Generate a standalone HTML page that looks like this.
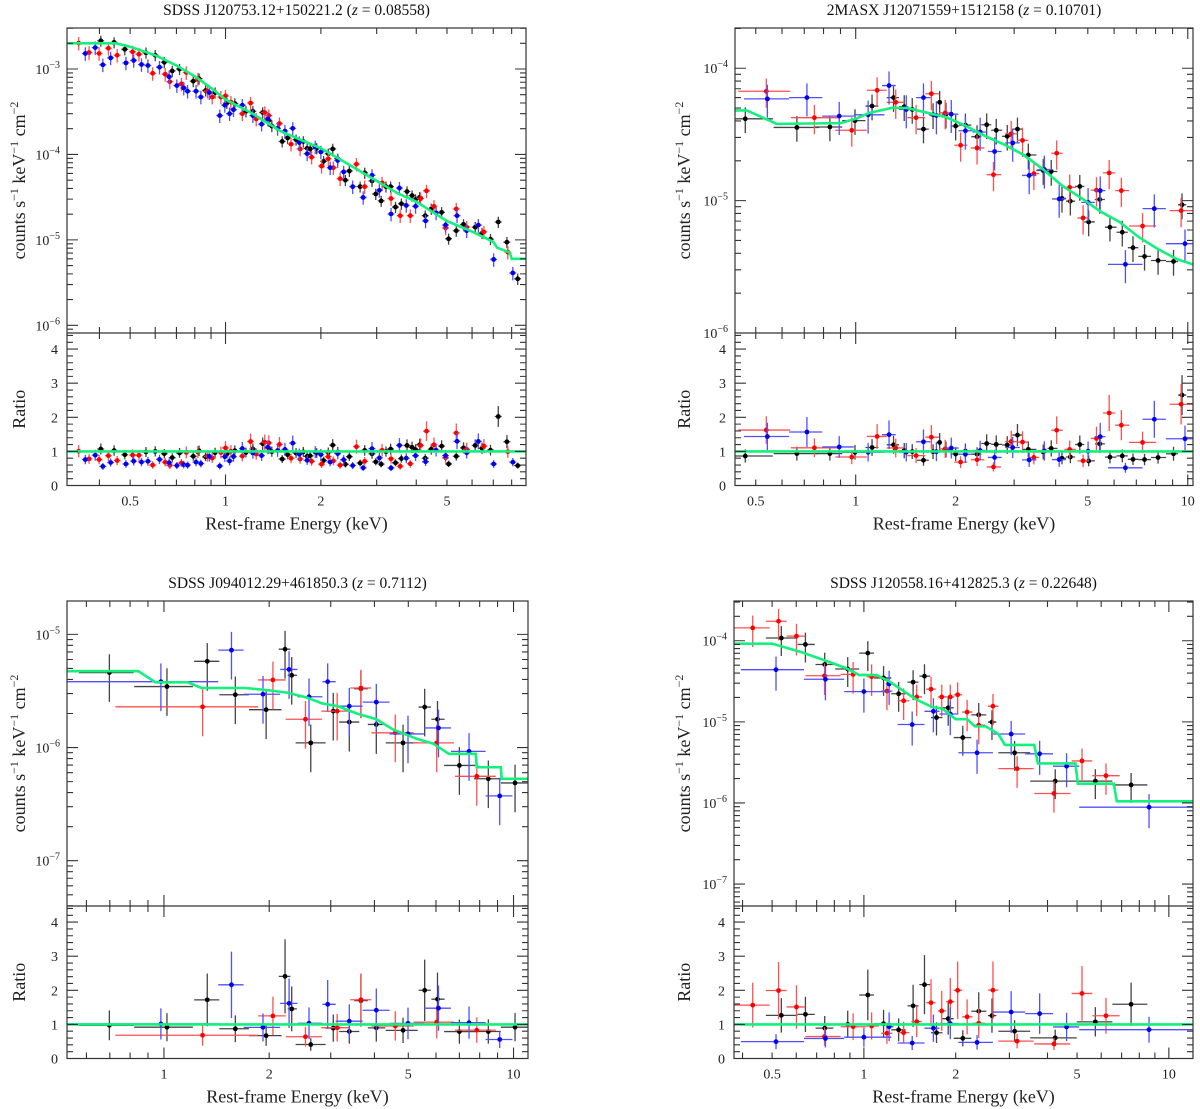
<!DOCTYPE html>
<html><head><meta charset="utf-8"><style>
html,body{margin:0;padding:0;background:#fff;}
svg{display:block;font-family:"Liberation Serif","DejaVu Serif",serif;}
</style></head><body>
<svg id="fig" width="1200" height="1109" viewBox="0 0 1200 1109" xmlns="http://www.w3.org/2000/svg"></svg>
<script>
// ---------- DATA (energies keV, counts s^-1 keV^-1 cm^-2) ----------
// Panel TL: SDSS J120753.12+150221.2
const tlBlackE=[0.404,0.445,0.481,0.561,0.600,0.641,0.679,0.716,0.791,0.825,0.865,0.927,1.01,1.07,1.16,1.22,1.31,1.37,1.40,1.51,1.57,1.67,1.76,1.81,1.85,1.94,2.04,2.11,2.18,2.26,2.39,2.46,2.66,2.75,2.90,2.98,3.10,3.21,3.32,3.44,3.59,3.74,3.88,3.98,4.10,4.27,4.46,4.81,5.06,5.35,5.64,6.14,6.45,6.86,7.26,7.73,8.36];
const tlBlackY=[2.14e-3,2.05e-3,1.70e-3,1.55e-3,1.45e-3,1.20e-3,9.5e-4,1.0e-3,7.2e-4,7.7e-4,5.6e-4,5.3e-4,4.0e-4,3.95e-4,3.2e-4,3.2e-4,3.1e-4,2.5e-4,2.15e-4,1.42e-4,1.56e-4,1.49e-4,1.42e-4,1.18e-4,1.16e-4,1.18e-4,8.3e-5,1.02e-4,1.16e-4,8.9e-5,5.0e-5,6.4e-5,4.2e-5,6.1e-5,4.9e-5,3.45e-5,2.86e-5,4.2e-5,4.2e-5,2.42e-5,2.65e-5,3.68e-5,3.3e-5,2.97e-5,3.15e-5,1.92e-5,2.31e-5,2.1e-5,1.03e-5,1.28e-5,1.52e-5,1.41e-5,1.2e-5,1.02e-5,1.62e-5,9.4e-6,3.5e-6];
const tlRedE=[0.344,0.371,0.399,0.427,0.455,0.509,0.533,0.589,0.645,0.667,0.726,0.752,0.818,0.877,0.908,0.967,1.0,1.04,1.13,1.20,1.25,1.33,1.37,1.48,1.61,1.72,1.87,2.01,2.11,2.19,2.30,2.59,2.75,3.12,3.33,3.56,3.83,4.13,4.31,4.55,4.95,5.35,5.77,6.54,7.78];
const tlRedY=[2.01e-3,1.56e-3,1.52e-3,1.75e-3,1.45e-3,1.59e-3,1.49e-3,8.9e-4,8.7e-4,7.1e-4,6.7e-4,9.1e-4,7.6e-4,5.5e-4,4.7e-4,4.7e-4,4.85e-4,4.1e-4,3.0e-4,4.0e-4,2.6e-4,3.1e-4,2.85e-4,2.3e-4,1.32e-4,1.16e-4,9.3e-5,7.3e-5,8.9e-5,7.0e-5,5.2e-5,7.7e-5,4.2e-5,4.65e-5,3.05e-5,1.92e-5,1.92e-5,3.05e-5,3.75e-5,2.47e-5,1.38e-5,2.3e-5,1.41e-5,1.24e-5,7.2e-6];
const tlBlueE=[0.361,0.388,0.410,0.434,0.485,0.513,0.543,0.569,0.619,0.664,0.702,0.738,0.759,0.807,0.836,0.889,0.959,0.995,1.03,1.06,1.13,1.22,1.30,1.36,1.46,1.54,1.63,1.71,1.81,1.92,2.0,2.14,2.26,2.36,2.52,2.72,2.90,3.06,3.33,3.54,3.72,3.98,4.28,4.62,4.95,5.38,5.77,6.28,7.02,8.07];
const tlBlueY=[1.52e-3,1.78e-3,1.12e-3,1.35e-3,1.18e-3,1.26e-3,1.13e-3,1.10e-3,1.05e-3,8.1e-4,6.4e-4,6.0e-4,5.5e-4,5.5e-4,4.7e-4,5.3e-4,2.85e-4,3.77e-4,3.0e-4,3.34e-4,3.77e-4,2.85e-4,2.26e-4,2.6e-4,2.02e-4,1.88e-4,2.02e-4,1.38e-4,1.02e-4,1.23e-4,1.07e-4,7.0e-5,8.5e-5,6.25e-5,4.2e-5,3.14e-5,5.7e-5,3.8e-5,2.01e-5,4.04e-5,2.53e-5,2.47e-5,1.67e-5,2.07e-5,1.49e-5,1.92e-5,1.28e-5,1.49e-5,5.9e-6,4.1e-6];
const tlModelE=[0.316,0.45,0.5,0.6,0.7,0.8,0.9,1.0,1.2,1.5,2,2.5,3,3.5,4,5,6,7,7.2,7.9,8.0,8.88];
const tlModelY=[2.0e-3,2.0e-3,1.82e-3,1.45e-3,1.1e-3,8.2e-4,6.0e-4,4.4e-4,3.1e-4,1.85e-4,1.18e-4,7.3e-5,4.9e-5,3.5e-5,2.8e-5,1.66e-5,1.25e-5,9.5e-6,8.1e-6,7.1e-6,6.0e-6,6.0e-6];

// Panel TR: 2MASX J12071559+1512158
const trBlackE=[0.465,0.665,0.836,0.995,1.12,1.30,1.40,1.48,1.60,1.71,1.79,1.87,2.0,2.14,2.32,2.48,2.65,2.86,3.07,3.31,3.67,3.88,4.18,4.43,4.73,5.03,5.43,5.83,6.35,6.84,7.41,8.14,9.06,9.61];
const trBlackY=[4.15e-5,3.57e-5,3.6e-5,4.02e-5,5.18e-5,6.0e-5,5.12e-5,4.88e-5,3.47e-5,4.46e-5,5.53e-5,4.5e-5,3.66e-5,3.72e-5,3.04e-5,3.74e-5,3.4e-5,3.06e-5,3.47e-5,2.21e-5,1.69e-5,1.66e-5,1.04e-5,9.9e-6,1.28e-5,6.9e-6,1.02e-5,6.3e-6,5.77e-6,4.41e-6,3.79e-6,3.53e-6,3.47e-6,9.3e-6];
const trBlackLo=[0.431,0.566,0.755,0.911,1.07,1.24,1.35,1.44,1.53,1.66,1.75,1.82,1.93,2.05,2.23,2.39,2.56,2.76,2.96,3.19,3.5,3.78,4.05,4.3,4.58,4.88,5.25,5.63,6.1,6.6,7.1,7.75,8.6,9.35];
const trBlackHi=[0.563,0.776,0.911,1.07,1.17,1.35,1.44,1.53,1.66,1.75,1.82,1.93,2.05,2.23,2.39,2.56,2.76,2.96,3.19,3.5,3.78,4.05,4.3,4.58,4.88,5.25,5.63,6.1,6.6,7.1,7.75,8.6,9.35,9.9];
const trRedE=[0.538,0.751,0.973,1.16,1.32,1.52,1.69,1.86,2.07,2.32,2.60,2.94,3.18,3.44,3.70,4.03,4.41,4.84,5.31,5.80,6.31,7.31,9.55];
const trRedY=[6.7e-5,4.23e-5,3.4e-5,6.82e-5,5.53e-5,4.23e-5,6.42e-5,4.6e-5,2.62e-5,2.5e-5,1.57e-5,3.2e-5,2.85e-5,1.6e-5,1.72e-5,2.28e-5,1.26e-5,7.4e-6,1.2e-5,1.62e-5,1.19e-5,6.43e-6,8.4e-6];
const trRedLo=[0.443,0.638,0.868,1.08,1.24,1.43,1.62,1.78,1.98,2.22,2.48,2.82,3.06,3.31,3.57,3.88,4.25,4.65,5.1,5.55,6.05,6.66,8.82];
const trRedHi=[0.635,0.887,1.08,1.24,1.40,1.62,1.78,1.96,2.17,2.44,2.74,3.06,3.31,3.57,3.84,4.2,4.6,5.05,5.52,6.05,6.66,8.03,10.6];
const trBlueE=[0.542,0.713,0.892,1.09,1.26,1.42,1.60,1.75,1.94,2.14,2.37,2.62,2.97,3.33,3.70,4.10,5.01,5.45,6.49,7.93,9.81];
const trBlueY=[5.87e-5,6.0e-5,4.35e-5,4.45e-5,7.4e-5,4.88e-5,6.0e-5,4.4e-5,4.5e-5,3.37e-5,3.3e-5,2.35e-5,2.73e-5,1.55e-5,1.71e-5,1.03e-5,9.7e-6,1.19e-5,3.3e-6,8.7e-6,4.73e-6];
const trBlueLo=[0.461,0.630,0.793,0.987,1.2,1.35,1.52,1.67,1.85,2.04,2.25,2.5,2.82,3.17,3.52,3.9,4.78,5.25,5.75,7.31,8.59];
const trBlueHi=[0.630,0.793,0.987,1.22,1.32,1.49,1.68,1.84,2.04,2.25,2.49,2.75,3.12,3.5,3.9,4.3,5.25,5.65,7.31,8.59,10.6];
const trModelE=[0.433,0.47,0.578,0.9,1.0,1.1,1.29,1.43,1.87,2.14,2.45,2.8,3.2,3.65,4.18,4.77,5.45,6.23,7.12,8.14,9.3,10.37];
const trModelY=[4.8e-5,4.8e-5,3.8e-5,3.85e-5,4.15e-5,4.6e-5,5.03e-5,5.0e-5,4.27e-5,3.68e-5,3.08e-5,2.65e-5,2.22e-5,1.74e-5,1.3e-5,1.05e-5,8.3e-6,6.9e-6,5.3e-6,4.3e-6,3.6e-6,3.3e-6];

// Panel BL: SDSS J094012.29+461850.3
const blBlackE=[0.698,1.02,1.33,1.60,1.96,2.22,2.32,2.63,3.05,3.39,3.66,4.05,4.83,5.57,6.06,7.0,8.47,10.1];
const blBlackY=[4.6e-6,3.46e-6,5.78e-6,2.93e-6,2.16e-6,7.4e-6,4.35e-6,1.1e-6,2.1e-6,1.68e-6,3.31e-6,1.6e-6,1.1e-6,2.28e-6,1.78e-6,6.95e-7,5.3e-7,4.87e-7];
const blBlackLo=[0.571,0.822,1.22,1.44,1.75,2.13,2.26,2.38,2.90,3.17,3.5,3.83,4.31,5.35,5.82,6.33,7.7,9.2];
const blBlackHi=[0.819,1.21,1.44,1.75,2.17,2.30,2.40,2.90,3.20,3.62,3.83,4.3,5.32,5.8,6.35,7.77,9.2,11.0];
const blRedE=[1.29,2.05,2.54,3.13,3.66,4.59,6.03,7.85];
const blRedY=[2.29e-6,3.96e-6,1.78e-6,2.1e-6,3.36e-6,1.35e-6,1.1e-6,5.57e-7];
const blRedLo=[0.726,1.86,2.23,2.82,3.41,3.92,5.18,6.8];
const blRedHi=[1.86,2.23,2.83,3.41,3.92,5.18,6.76,8.9];
const blBlueE=[0.98,1.56,1.92,2.28,2.60,2.94,3.39,4.05,4.99,6.10,7.46,9.13];
const blBlueY=[3.82e-6,7.26e-6,2.96e-6,4.9e-6,2.81e-6,3.82e-6,2.32e-6,2.52e-6,1.32e-6,1.49e-6,9.25e-7,3.74e-7];
const blBlueLo=[0.528,1.43,1.69,2.15,2.41,2.84,3.10,3.70,4.42,5.55,6.62,8.32];
const blBlueHi=[1.43,1.69,2.15,2.41,2.84,3.10,3.70,4.42,5.55,6.62,8.32,9.93];
const blModelE=[0.528,0.845,0.946,1.17,1.28,1.71,2.0,2.26,2.56,2.84,3.14,3.56,4.05,4.53,5.27,5.9,6.53,7.8,7.85,9.2,9.25,11.0];
const blModelY=[4.73e-6,4.73e-6,3.77e-6,3.77e-6,3.36e-6,3.36e-6,3.2e-6,3.05e-6,2.77e-6,2.45e-6,2.32e-6,2.0e-6,1.78e-6,1.44e-6,1.2e-6,1.08e-6,8.8e-7,8.8e-7,6.7e-7,6.7e-7,5.3e-7,5.3e-7];

// Panel BR: SDSS J120558.16+412825.3
const brBlackE=[0.536,0.643,0.744,0.885,1.03,1.16,1.30,1.45,1.58,1.73,1.89,2.11,2.38,2.63,3.12,4.24,5.74,7.52];
const brBlackY=[1.08e-4,9.0e-5,5.1e-5,4.48e-5,7.04e-5,3.48e-5,2.22e-5,3.09e-5,3.66e-5,1.13e-5,1.49e-5,6.4e-6,1.22e-5,9.95e-6,4.16e-6,1.86e-6,1.86e-6,1.67e-6];
const brBlackLo=[0.477,0.606,0.694,0.805,0.965,1.08,1.23,1.39,1.52,1.66,1.81,1.97,2.25,2.55,2.76,3.51,4.99,6.53];
const brBlackHi=[0.606,0.690,0.794,0.965,1.08,1.23,1.37,1.51,1.65,1.81,1.97,2.25,2.52,2.72,3.51,4.99,6.53,8.5];
const brRedE=[0.432,0.525,0.601,0.743,0.922,1.06,1.19,1.35,1.49,1.66,1.80,1.92,2.03,2.18,2.38,2.65,3.18,4.20,5.19,6.22];
const brRedY=[1.44e-4,1.74e-4,1.14e-4,3.7e-5,3.85e-5,3.6e-5,2.4e-5,1.82e-5,2.03e-5,2.53e-5,2.03e-5,2.03e-5,2.16e-5,1.32e-5,9.1e-6,1.56e-5,2.65e-6,1.31e-6,3.3e-6,2.17e-6];
const brRedLo=[0.374,0.477,0.558,0.643,0.839,1.02,1.14,1.29,1.43,1.6,1.75,1.86,1.97,2.1,2.27,2.55,2.76,3.62,4.8,5.61];
const brRedHi=[0.491,0.558,0.643,0.839,1.02,1.12,1.24,1.41,1.55,1.72,1.86,1.98,2.1,2.27,2.5,2.76,3.60,4.75,5.61,6.90];
const brBlueE=[0.515,0.748,1.0,1.21,1.44,1.69,1.92,2.35,3.04,3.77,4.62,8.61];
const brBlueY=[4.4e-5,3.35e-5,2.36e-5,2.94e-5,9.27e-6,1.35e-5,1.25e-5,4.16e-6,7.08e-6,4.04e-6,2.84e-6,8.87e-7];
const brBlueLo=[0.395,0.636,0.862,1.18,1.29,1.58,1.77,2.04,2.65,3.38,4.17,5.08];
const brBlueHi=[0.636,0.862,1.23,1.25,1.58,1.77,2.04,2.65,3.38,4.17,5.08,12.2];
const brModelE=[0.375,0.5,0.623,0.752,0.873,0.965,1.1,1.22,1.48,1.67,1.81,2.0,2.18,2.31,2.51,2.76,2.9,3.62,3.72,4.94,5.03,6.6,6.75,12.0];
const brModelY=[9.2e-5,9.2e-5,7.25e-5,5.65e-5,4.6e-5,3.78e-5,3.78e-5,3.1e-5,1.9e-5,1.53e-5,1.45e-5,1.08e-5,1.08e-5,8.8e-6,8.8e-6,7.1e-6,5.2e-6,5.2e-6,3.07e-6,3.07e-6,1.73e-6,1.73e-6,1.05e-6,1.05e-6];

// fractional errors per series (estimated)
const tlErr=[0.15,0.18,0.18];
const trErr=[0.22,0.25,0.28];
const blErr=[0.45,0.45,0.45];
const brErr=[0.4,0.42,0.45];

// x tick labels
const tlXTicks=[0.5,1,2,5];
const trXTicks=[0.5,1,2,5,10];
const blXTicks=[1,2,5,10];
const brXTicks=[0.5,1,2,5,10];
const ratioTicks=[0,1,2,3,4];

// ---------- DRAWING ----------
const NS='http://www.w3.org/2000/svg';
const svg=document.getElementById('fig');
function mk(tag,attrs,parent){const e=document.createElementNS(NS,tag);for(const k in attrs)e.setAttribute(k,attrs[k]);(parent||svg).appendChild(e);return e;}
const L=Math.log10;
const COL={black:['#000','#444'],red:['#ff0000','#ff5050'],blue:['#0000ee','#5050ff']};

function drawPanel(p){
  const g=mk('g',{});
  
  
  const lx0=L(p.eMin),lx1=L(p.eMax);
  const X=e=>p.x0+(L(e)-lx0)/(lx1-lx0)*(p.x1-p.x0);
  const Y=v=>p.top+(p.lyTop-L(v))/(p.lyTop-p.lyBot)*(p.div-p.top);
  const rScale=34.1;
  const R=r=>p.bot-r*rScale;
  const model=e=>{const me=p.mE,my=p.mY;if(e<=me[0])return my[0];
    for(let i=1;i<me.length;i++){if(e<=me[i]){const t=(L(e)-L(me[i-1]))/((L(me[i])-L(me[i-1]))||1);return Math.pow(10,L(my[i-1])+t*(L(my[i])-L(my[i-1])));}}
    return my[my.length-1];};
  const cid='clip'+p.id;
  const cp=mk('clipPath',{id:cid},g);mk('rect',{x:p.x0,y:p.top,width:p.x1-p.x0,height:p.bot-p.top},cp);
  const dg=mk('g',{'clip-path':'url(#'+cid+')'},g);
  
  
  p.series.forEach((s,si)=>{
    const c=COL[s.color];const f=p.err[si];
    for(let i=0;i<s.E.length;i++){
      const e=s.E[i],y=s.Y[i];
      const lo=s.lo?s.lo[i]:e*0.975,hi=s.hi?s.hi[i]:e*1.025;
      const x=X(e),xa=X(lo),xb=X(hi);
      const ya=Y(y*(1+f)),yb=Y(y*(1-f)),yy=Y(y);
      const eb=mk('path',{d:`M${xa},${yy}H${xb}M${x},${ya}V${yb}`,stroke:c[1],'stroke-width':1.3,fill:'none'},dg);
      
      
      const pt=mk('circle',{cx:x,cy:yy,r:2.4,fill:c[0]},dg);
      
      
      const m=model(e),r=y/m;
      const ry=R(r),ra=R(r*(1+f)),rb=R(r*(1-f));
      const reb=mk('path',{d:`M${xa},${ry}H${xb}M${x},${ra}V${rb}`,stroke:c[1],'stroke-width':1.3,fill:'none'},dg);
      
      
      const rp=mk('circle',{cx:x,cy:ry,r:2.4,fill:c[0]},dg);
      
      
    }
  });
  let d='';p.mE.forEach((e,i)=>{d+=(i?'L':'M')+X(e)+','+Y(p.mY[i]);});
  const ml=mk('path',{d:d,stroke:'#14f07c','stroke-width':2.6,fill:'none'},dg);
  
  
  const ul=mk('line',{x1:p.x0,x2:p.x1,y1:R(1),y2:R(1),stroke:'#14f07c','stroke-width':2.6},dg);
  
  
  const fr=mk('rect',{x:p.x0,y:p.top,width:p.x1-p.x0,height:p.bot-p.top,fill:'none',stroke:'#333','stroke-width':1.2},g);
  
  
  const dv=mk('line',{x1:p.x0,x2:p.x1,y1:p.div,y2:p.div,stroke:'#333','stroke-width':1.2},g);
  
  
  let td='';
  for(let dec=Math.floor(lx0);dec<=Math.ceil(lx1);dec++){
    for(let m=1;m<10;m++){const e=m*Math.pow(10,dec);if(e<p.eMin||e>p.eMax)continue;
      const x=X(e),len=m===1?11:6;
      td+=`M${x},${p.top}v${len}M${x},${p.bot}v${-len}M${x},${p.div-len}v${2*len}`;}
  }
  for(let dec=Math.floor(p.lyBot);dec<=Math.ceil(p.lyTop);dec++){
    for(let m=1;m<10;m++){const v=m*Math.pow(10,dec);const lv=L(v);if(lv<p.lyBot||lv>p.lyTop)continue;
      const y=Y(v),len=m===1?11:6;td+=`M${p.x0},${y}h${len}M${p.x1},${y}h${-len}`;}
  }
  for(let r=0;r*rScale<=p.bot-p.div;r+=0.2){const y=R(r);const maj=Math.abs(r-Math.round(r))<1e-6;const len=maj?11:6;
    td+=`M${p.x0},${y}h${len}M${p.x1},${y}h${-len}`;}
  const tk=mk('path',{d:td,stroke:'#333','stroke-width':1.1,fill:'none'},g);
  
  
  p.xt.forEach(v=>{const t=mk('text',{x:X(v),y:p.bot+20,'text-anchor':'middle','font-size':14,fill:'#222'},g);t.textContent=String(v);
    
    });
  for(let dec=Math.ceil(p.lyBot-0.05);dec<=Math.floor(p.lyTop);dec++){
    const t=mk('text',{x:p.x0-7,y:Y(Math.pow(10,dec))+5,'text-anchor':'end','font-size':14,fill:'#222'},g);
    
    
    t.appendChild(document.createTextNode('10'));
    const s=mk('tspan',{'baseline-shift':'6','font-size':10},t);s.textContent='−'+(-dec);
  }
  ratioTicks.forEach(r=>{const t=mk('text',{x:p.x0-9,y:R(r)+5,'text-anchor':'end','font-size':14,fill:'#222'},g);t.textContent=String(r);
    
    });
  const tt=mk('text',{x:(p.x0+p.x1)/2,y:p.top-13,'text-anchor':'middle','font-size':15.5,fill:'#111'},g);
  
  
  tt.appendChild(document.createTextNode(p.title+' ('));
  const zi=mk('tspan',{'font-style':'italic'},tt);zi.textContent='z';
  tt.appendChild(document.createTextNode(' = '+p.z+')'));
  const xl=mk('text',{x:(p.x0+p.x1)/2,y:p.bot+44,'text-anchor':'middle','font-size':18,fill:'#222'},g);
  xl.textContent='Rest-frame Energy (keV)';
  
  
  const cy=(p.top+p.div)/2;
  const yl=mk('text',{x:p.ylx,y:cy,'text-anchor':'middle','font-size':18,fill:'#222',transform:`rotate(-90 ${p.ylx} ${cy})`,dy:6},g);
  
  
  const parts=[['counts s',0],['−1',1],[' keV',0],['−1',1],[' cm',0],['−2',1]];
  parts.forEach(([s,sup])=>{const ts=mk('tspan',sup?{'baseline-shift':'7','font-size':12}:{},yl);ts.textContent=s;});
  const ry=(p.div+p.bot)/2;
  const rl=mk('text',{x:p.ylx,y:ry,'text-anchor':'middle','font-size':18,fill:'#222',transform:`rotate(-90 ${p.ylx} ${ry})`,dy:6},g);
  rl.textContent='Ratio';
  
  
}

const panels=[
 {id:'tl',name:'panel-sdss-j120753',x0:67,x1:526,top:28,div:333,bot:485.5,eMin:0.316,eMax:8.88,lyTop:-2.52,lyBot:-6.09,ylx:19,
  title:'SDSS J120753.12+150221.2',z:'0.08558',xt:tlXTicks,mE:tlModelE,mY:tlModelY,err:tlErr,
  series:[{color:'black',E:tlBlackE,Y:tlBlackY},{color:'red',E:tlRedE,Y:tlRedY},{color:'blue',E:tlBlueE,Y:tlBlueY}]},
 {id:'tr',name:'panel-2masx-j12071559',x0:735,x1:1193,top:28,div:333,bot:485.5,eMin:0.433,eMax:10.37,lyTop:-3.696,lyBot:-6.0,ylx:684,
  title:'2MASX J12071559+1512158',z:'0.10701',xt:trXTicks,mE:trModelE,mY:trModelY,err:trErr,
  series:[{color:'black',E:trBlackE,Y:trBlackY,lo:trBlackLo,hi:trBlackHi},{color:'red',E:trRedE,Y:trRedY,lo:trRedLo,hi:trRedHi},{color:'blue',E:trBlueE,Y:trBlueY,lo:trBlueLo,hi:trBlueHi}]},
 {id:'bl',name:'panel-sdss-j094012',x0:67,x1:528,top:601,div:906,bot:1058.5,eMin:0.528,eMax:11.0,lyTop:-4.705,lyBot:-7.40,ylx:19,
  title:'SDSS J094012.29+461850.3',z:'0.7112',xt:blXTicks,mE:blModelE,mY:blModelY,err:blErr,
  series:[{color:'black',E:blBlackE,Y:blBlackY,lo:blBlackLo,hi:blBlackHi},{color:'red',E:blRedE,Y:blRedY,lo:blRedLo,hi:blRedHi},{color:'blue',E:blBlueE,Y:blBlueY,lo:blBlueLo,hi:blBlueHi}]},
 {id:'br',name:'panel-sdss-j120558',x0:734,x1:1193,top:601,div:906,bot:1058.5,eMin:0.375,eMax:12.0,lyTop:-3.51,lyBot:-7.27,ylx:684,
  title:'SDSS J120558.16+412825.3',z:'0.22648',xt:brXTicks,mE:brModelE,mY:brModelY,err:brErr,
  series:[{color:'black',E:brBlackE,Y:brBlackY,lo:brBlackLo,hi:brBlackHi},{color:'red',E:brRedE,Y:brRedY,lo:brRedLo,hi:brRedHi},{color:'blue',E:brBlueE,Y:brBlueY,lo:brBlueLo,hi:brBlueHi}]}
];
panels.forEach(drawPanel);
</script>
</body></html>
